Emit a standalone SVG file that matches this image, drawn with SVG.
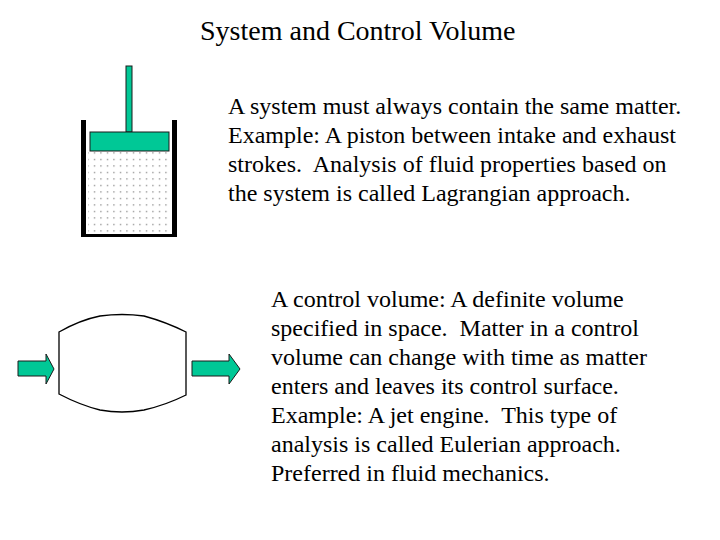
<svg xmlns="http://www.w3.org/2000/svg" width="720" height="540" viewBox="0 0 720 540">
<defs>
<style>
text{font-family:"Liberation Serif","Times New Roman",serif;font-size:24px;fill:#000;white-space:pre}
.t{font-size:28px}
.g{fill:#00c896;stroke:#1a1a1a;stroke-width:1}
</style>
<pattern id="dots" width="6.5" height="6.5" patternUnits="userSpaceOnUse"><rect x="3" y="3" width="1" height="1" fill="#333"/></pattern>
</defs>
<rect width="720" height="540" fill="#fff"/>
<text class="t" x="200" y="40">System and Control Volume</text>
<g id="piston">
<rect x="88" y="152" width="82" height="82" fill="url(#dots)"/>
<rect x="81" y="120" width="5" height="117" fill="#000"/>
<rect x="172" y="120" width="5" height="117" fill="#000"/>
<rect x="81" y="234" width="96" height="3" fill="#000"/>
<rect class="g" x="126" y="66" width="6" height="66"/>
<rect class="g" x="90" y="132" width="79" height="19"/>
</g>
<g id="text1">
<text x="228" y="114">A system must always contain the same matter.</text>
<text x="228" y="143">Example: A piston between intake and exhaust</text>
<text x="228" y="172">strokes.  Analysis of fluid properties based on</text>
<text x="228" y="201">the system is called Lagrangian approach.</text>
</g>
<g id="cv">
<path d="M59 332 Q80 320 100 316 Q122 313 144 316 Q166 322 186 332 L186 395 Q166 405 144 410 Q122 414 100 410 Q80 405 59 394 Z" fill="none" stroke="#000" stroke-width="1.3"/>
</g>
<g id="connectors">
<path class="g" d="M18 361 H46 V354 L54 369 L46 384 V376 H18 Z"/>
<path class="g" d="M192 361 H229 V354 L240 369 L229 384 V376 H192 Z"/>
</g>
<g id="text2">
<text x="271" y="307">A control volume: A definite volume</text>
<text x="271" y="336">specified in space.  Matter in a control</text>
<text x="271" y="365">volume can change with time as matter</text>
<text x="271" y="394">enters and leaves its control surface.</text>
<text x="271" y="423">Example: A jet engine.  This type of</text>
<text x="271" y="452">analysis is called Eulerian approach.</text>
<text x="271" y="481">Preferred in fluid mechanics.</text>
</g>
</svg>
